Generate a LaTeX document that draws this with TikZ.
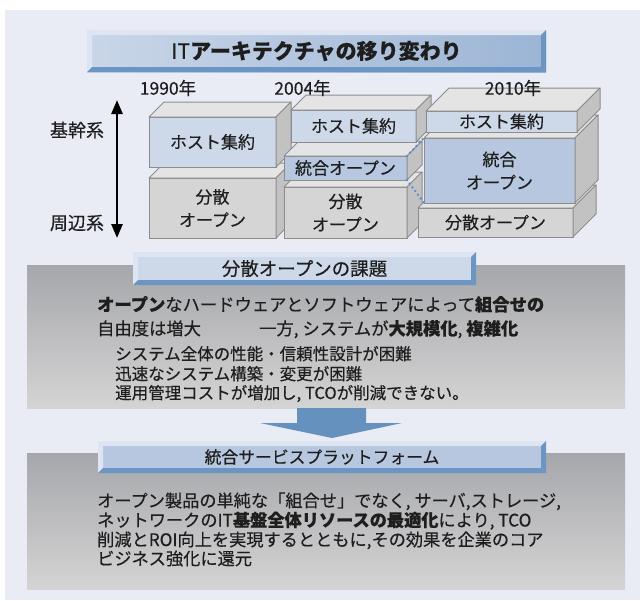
\documentclass[tikz,border=0pt]{standalone}
\usepackage{fontspec}
\setmainfont{Noto Sans CJK JP}[FakeBold=0.4]
\usetikzlibrary{arrows.meta}
\definecolor{bgc}{HTML}{E9ECF4}
\definecolor{edgec}{HTML}{8C8C8C}
\definecolor{topc}{HTML}{E4E4E4}
\definecolor{sidec}{HTML}{C2C2C2}
\definecolor{hostc}{HTML}{CDD8E9}
\definecolor{intc}{HTML}{B6C7DF}
\definecolor{dispc}{HTML}{D5D5D5}
\definecolor{txt}{HTML}{1E1E1E}
\definecolor{bevlight}{HTML}{DCE5F1}
\definecolor{bevdark}{HTML}{6B96C4}
\definecolor{arrowc}{HTML}{6591BF}
\definecolor{dotc}{HTML}{5B8FC9}
\definecolor{paneltop}{HTML}{A6A7AB}
\definecolor{panelbot}{HTML}{D4D4D4}
\definecolor{titleleft}{HTML}{C9D6E8}
\definecolor{titleright}{HTML}{9CB5D5}
\newcommand\blk[8]{%
  \node[front, fill=#7, minimum width=#4pt, minimum height=#5pt] (#1) at (#2,#3) {#8};
  \filldraw[edge, fill=topc] (#1.north west) -- ++(#6,-#6) -- ([shift={(#6,-#6)}]#1.north east) -- (#1.north east) -- cycle;
  \filldraw[edge, fill=sidec] (#1.north east) -- ++(#6,-#6) -- ([shift={(#6,-#6)}]#1.south east) -- (#1.south east) -- cycle;
}
\newcommand\bevframe[4]{%
  \fill[bevlight] (#1,#2) -- (#3,#2) -- ({#3-5},{#2+5}) -- ({#1+5},{#2+5}) -- cycle;
  \fill[bevlight] (#1,#2) -- ({#1+5},{#2+5}) -- ({#1+5},{#4-5}) -- (#1,#4) -- cycle;
  \fill[bevdark] (#1,#4) -- (#3,#4) -- ({#3-5},{#4-5}) -- ({#1+5},{#4-5}) -- cycle;
  \fill[bevdark] (#3,#2) -- (#3,#4) -- ({#3-5},{#4-5}) -- ({#3-5},{#2+5}) -- cycle;
}
\begin{document}
\begin{tikzpicture}[x=1pt,y=-1pt,
  edge/.style={draw=edgec, line width=1pt, line join=round},
  front/.style={draw=edgec, line width=1pt, rectangle, inner sep=0pt, outer sep=0pt,
    font=\fontsize{17}{23}\selectfont, align=center, text=txt},
  lbl/.style={inner sep=0pt, text=txt},
  panel/.style={rectangle, inner sep=0pt, outer sep=0pt, top color=paneltop, bottom color=panelbot},
  hdr/.style={rectangle, inner sep=0pt, outer sep=0pt, text=txt},
  ptxt/.style={anchor=base west, inner sep=0pt, text=txt},
  dots/.style={dotc, line width=2.7pt, line cap=round, dash pattern=on 0pt off 4.6pt},
]
\useasboundingbox (0,0) rectangle (640,600);
\fill[bgc] (5,10) rectangle (640,600);

% title
\node[hdr, minimum width=459pt, minimum height=42pt, left color=titleleft, right color=titleright,
  font=\fontsize{21}{24}\selectfont] (title) at (316.5,51) {IT\textbf{アーキテクチャの移り変わり}};
\bevframe{87}{30}{546}{72}

% column 1
\blk{c1d}{212.5}{208}{127}{60}{15}{dispc}{分散\\オープン}
\blk{c1h}{212.5}{142}{127}{50}{15}{hostc}{ホスト集約}
% column 2
\blk{c2d}{345.5}{212.5}{123}{51}{15}{dispc}{分散\\オープン}
\blk{c2i}{345.5}{168}{123}{24}{15}{intc}{統合オープン}
\blk{c2h}{353.5}{126}{125}{32}{15}{hostc}{ホスト集約}
% column 3
\blk{c3d}{495.5}{222.5}{155}{29}{23}{dispc}{分散オープン}
\blk{c3i}{499.5}{170.5}{151}{65}{23}{intc}{統合\\オープン}
\blk{c3h}{501.5}{121.5}{151}{21}{23}{hostc}{ホスト集約}

\draw[dots] (c2i.north east) -- (c3i.north west);
\draw[dots] (c2i.south east) -- (c3i.south west);

% years
\node[lbl, font=\fontsize{17.5}{20}\selectfont] (y1) at (168,88) {1990年};
\node[lbl, font=\fontsize{17.5}{20}\selectfont] (y2) at (302.5,88) {2004年};
\node[lbl, font=\fontsize{17.5}{20}\selectfont] (y3) at (513,88) {2010年};

% vertical arrow
\coordinate (atop) at (117,100);
\coordinate (abot) at (117,238);
\draw[line width=2.6pt, {Triangle[length=14pt,width=11pt]}-{Triangle[length=14pt,width=11pt]}] (atop) -- (abot);
\node[lbl, font=\fontsize{18}{20}\selectfont] (core) at (77,130) {基幹系};
\node[lbl, font=\fontsize{18}{20}\selectfont] (edgeL) at (77,223) {周辺系};

% panel 1
\node[panel, minimum width=598pt, minimum height=143pt] (p1) at (326,336.5) {};
\node[hdr, minimum width=343pt, minimum height=33pt, fill=hostc, font=\fontsize{18.5}{20}\selectfont] (h1) at (304.5,268.5) {分散オープンの課題};
\bevframe{133}{252}{476}{285}
\node[ptxt, font=\fontsize{17.3}{20}\selectfont] (l1) at (97,311) {\textbf{オープン}なハードウェアとソフトウェアによって\textbf{組合せの}};
\node[ptxt, font=\fontsize{17.3}{20}\selectfont] (l2a) at (97,335) {自由度は増大};
\node[ptxt, font=\fontsize{17.3}{20}\selectfont] (l2b) at (259,335) {一方, システムが\textbf{大規模化}, \textbf{複雑化}};
\node[ptxt, font=\fontsize{16.5}{20}\selectfont] (l3) at (115,360) {システム全体の性能・信頼性設計が困難};
\node[ptxt, font=\fontsize{16.5}{20}\selectfont] (l4) at (115,380) {迅速なシステム構築・変更が困難};
\node[ptxt, font=\fontsize{16.5}{20}\selectfont] (l5) at (115,399) {運用管理コストが増加し, TCOが削減できない。};

% block arrow
\fill[arrowc] (297,408) -- (366,408) -- (366,423) -- (402,423) -- (332,438) -- (260,423) -- (297,423) -- cycle;

% panel 2
\node[panel, minimum width=598pt, minimum height=136pt] (p2) at (326,521) {};
\node[hdr, minimum width=448pt, minimum height=32pt, fill=intc, font=\fontsize{16.8}{20}\selectfont] (h2) at (322,457) {統合サービスプラットフォーム};
\bevframe{98}{441}{546}{473}
\node[ptxt, font=\fontsize{17.2}{20}\selectfont] (m1) at (97,507) {オープン製品の単純な「組合せ」でなく, サーバ,ストレージ,};
\node[ptxt, font=\fontsize{17.2}{20}\selectfont] (m2) at (97,526.5) {ネットワークのIT\textbf{基盤全体リソースの最適化}により, TCO};
\node[ptxt, font=\fontsize{17.2}{20}\selectfont] (m3) at (97,546) {削減とROI向上を実現するとともに,その効果を企業のコア};
\node[ptxt, font=\fontsize{17.2}{20}\selectfont] (m4) at (97,565) {ビジネス強化に還元};
\end{tikzpicture}
\end{document}
